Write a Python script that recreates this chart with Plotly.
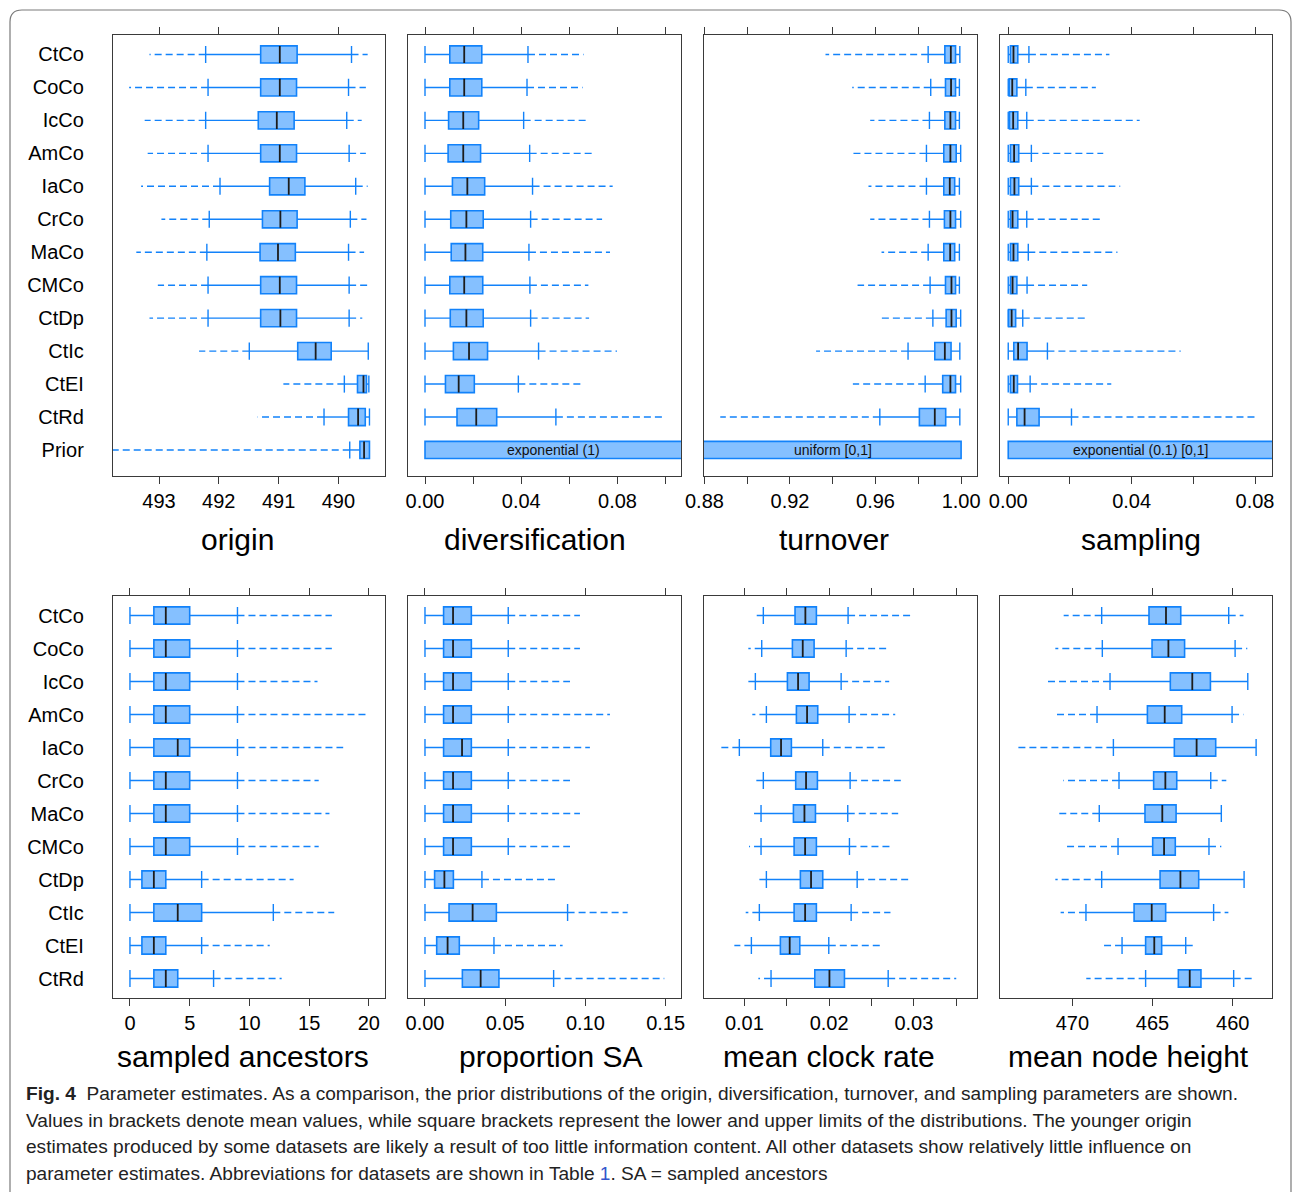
import plotly.graph_objects as go

# ---------------- data ----------------
# each row: [lower dashed end, lower whisker, Q1, median, Q3, upper whisker, upper dashed end]
top_labels = ["CtCo", "CoCo", "IcCo", "AmCo", "IaCo", "CrCo", "MaCo", "CMCo",
              "CtDp", "CtIc", "CtEI", "CtRd", "Prior"]
bottom_labels = top_labels[:12]

origin_stats = [
    [489.51, 489.78, 490.69, 490.98, 491.30, 492.22, 493.16],
    [489.54, 489.83, 490.70, 490.98, 491.30, 492.18, 493.50],
    [489.61, 489.86, 490.74, 491.03, 491.34, 492.22, 493.24],
    [489.54, 489.82, 490.70, 490.98, 491.30, 492.18, 493.19],
    [489.51, 489.71, 490.56, 490.83, 491.15, 491.98, 493.30],
    [489.53, 489.80, 490.69, 490.97, 491.27, 492.16, 492.96],
    [489.57, 489.83, 490.72, 491.01, 491.31, 492.20, 493.38],
    [489.50, 489.82, 490.70, 490.98, 491.30, 492.18, 493.02],
    [489.60, 489.82, 490.70, 490.97, 491.30, 492.18, 493.16],
    [489.50, 489.50, 490.12, 490.38, 490.68, 491.49, 492.33],
    [489.49, 489.49, 489.53, 489.58, 489.68, 489.90, 490.92],
    [489.48, 489.48, 489.55, 489.67, 489.83, 490.24, 491.35],
    [489.48, 489.48, 489.48, 489.57, 489.64, 489.81, 500.00],  # prior
]

diversification_stats = [
    [0.0, 0.0, 0.0103, 0.0163, 0.0236, 0.0428, 0.0659],
    [0.0, 0.0, 0.0103, 0.0163, 0.0236, 0.0424, 0.0655],
    [0.0, 0.0, 0.0098, 0.0159, 0.0223, 0.0410, 0.0682],
    [0.0, 0.0, 0.0096, 0.0159, 0.0231, 0.0435, 0.0702],
    [0.0, 0.0, 0.0114, 0.0176, 0.0248, 0.0447, 0.0780],
    [0.0, 0.0, 0.0107, 0.0172, 0.0242, 0.0439, 0.0736],
    [0.0, 0.0, 0.0109, 0.0168, 0.0240, 0.0432, 0.0769],
    [0.0, 0.0, 0.0103, 0.0163, 0.0240, 0.0436, 0.0679],
    [0.0, 0.0, 0.0105, 0.0172, 0.0242, 0.0439, 0.0682],
    [0.0, 0.0, 0.0118, 0.0183, 0.0260, 0.0472, 0.0798],
    [0.0, 0.0, 0.0085, 0.0140, 0.0205, 0.0388, 0.0647],
    [0.0, 0.0, 0.0133, 0.0213, 0.0298, 0.0544, 0.0995],
]
diversification_prior = [0.0, 1.0]
diversification_prior_text = "exponential (1)"

turnover_stats = [
    [0.9366, 0.9846, 0.9924, 0.9952, 0.9974, 0.9994, 0.9994],
    [0.9491, 0.9858, 0.9927, 0.9953, 0.9974, 0.9992, 0.9992],
    [0.9575, 0.9852, 0.9924, 0.9950, 0.9974, 0.9992, 0.9992],
    [0.9483, 0.9838, 0.9919, 0.9950, 0.9977, 0.9998, 0.9998],
    [0.9567, 0.9838, 0.9919, 0.9947, 0.9970, 0.9992, 0.9992],
    [0.9575, 0.9852, 0.9922, 0.9950, 0.9974, 0.9998, 0.9998],
    [0.9628, 0.9846, 0.9919, 0.9949, 0.9970, 0.9992, 0.9992],
    [0.9516, 0.9855, 0.9927, 0.9955, 0.9974, 0.9992, 0.9992],
    [0.9614, 0.9868, 0.9930, 0.9955, 0.9977, 0.9998, 0.9998],
    [0.9322, 0.9752, 0.9877, 0.9924, 0.9953, 0.9994, 0.9994],
    [0.9494, 0.9832, 0.9914, 0.9950, 0.9974, 0.9998, 0.9998],
    [0.8874, 0.9620, 0.9805, 0.9877, 0.9928, 0.9994, 0.9994],
]
turnover_prior = [0.0, 1.0]
turnover_prior_text = "uniform [0,1]"

sampling_stats = [
    [0.0, 0.0, 0.0007, 0.0017, 0.0031, 0.0067, 0.0328],
    [0.0, 0.0, 0.0003, 0.0013, 0.0028, 0.0057, 0.0284],
    [0.0, 0.0, 0.0004, 0.0016, 0.0031, 0.0060, 0.0426],
    [0.0, 0.0, 0.0007, 0.0019, 0.0034, 0.0075, 0.0308],
    [0.0, 0.0, 0.0007, 0.0020, 0.0034, 0.0075, 0.0363],
    [0.0, 0.0, 0.0007, 0.0014, 0.0031, 0.0060, 0.0298],
    [0.0, 0.0, 0.0007, 0.0017, 0.0031, 0.0065, 0.0354],
    [0.0, 0.0, 0.0007, 0.0014, 0.0028, 0.0061, 0.0256],
    [0.0, 0.0, 0.0001, 0.0011, 0.0024, 0.0047, 0.0253],
    [0.0, 0.0, 0.0018, 0.0032, 0.0061, 0.0127, 0.0559],
    [0.0, 0.0, 0.0007, 0.0018, 0.0030, 0.0071, 0.0334],
    [0.0, 0.0, 0.0028, 0.0053, 0.0100, 0.0205, 0.0803],
]
sampling_prior = [0.0, 1.0]
sampling_prior_text = "exponential (0.1) [0,1]"

sampled_ancestors_stats = [
    [0, 0, 2, 3, 5, 9, 16.9],
    [0, 0, 2, 3, 5, 9, 16.9],
    [0, 0, 2, 3, 5, 9, 15.7],
    [0, 0, 2, 3, 5, 9, 20.0],
    [0, 0, 2, 4, 5, 9, 17.85],
    [0, 0, 2, 3, 5, 9, 15.8],
    [0, 0, 2, 3, 5, 9, 16.7],
    [0, 0, 2, 3, 5, 9, 15.8],
    [0, 0, 1, 2, 3, 6, 13.7],
    [0, 0, 2, 4, 6, 12, 17.1],
    [0, 0, 1, 2, 3, 6, 11.7],
    [0, 0, 2, 3, 4, 7, 12.7],
]

proportion_sa_stats = [
    [0.0, 0.0, 0.0116, 0.0175, 0.0289, 0.0519, 0.0966],
    [0.0, 0.0, 0.0116, 0.0175, 0.0289, 0.0519, 0.0966],
    [0.0, 0.0, 0.0116, 0.0175, 0.0289, 0.0519, 0.0904],
    [0.0, 0.0, 0.0116, 0.0175, 0.0289, 0.0519, 0.1153],
    [0.0, 0.0, 0.0116, 0.0231, 0.0289, 0.0519, 0.1028],
    [0.0, 0.0, 0.0116, 0.0175, 0.0289, 0.0519, 0.0904],
    [0.0, 0.0, 0.0116, 0.0175, 0.0289, 0.0519, 0.0966],
    [0.0, 0.0, 0.0116, 0.0175, 0.0289, 0.0519, 0.0904],
    [0.0, 0.0, 0.0060, 0.0121, 0.0177, 0.0355, 0.0831],
    [0.0, 0.0, 0.0150, 0.0297, 0.0445, 0.0889, 0.1263],
    [0.0, 0.0, 0.0073, 0.0141, 0.0214, 0.0430, 0.0858],
    [0.0, 0.0, 0.0233, 0.0347, 0.0461, 0.0802, 0.1492],
]

clock_rate_stats = [
    [0.01146, 0.01224, 0.01598, 0.01720, 0.01850, 0.02224, 0.02984],
    [0.01047, 0.01205, 0.01567, 0.01689, 0.01823, 0.02201, 0.02709],
    [0.01020, 0.01130, 0.01508, 0.01634, 0.01764, 0.02142, 0.02709],
    [0.01094, 0.01260, 0.01614, 0.01740, 0.01866, 0.02236, 0.02780],
    [0.00720, 0.00941, 0.01311, 0.01433, 0.01555, 0.01925, 0.02661],
    [0.01106, 0.01224, 0.01606, 0.01728, 0.01862, 0.02248, 0.02846],
    [0.01094, 0.01197, 0.01579, 0.01709, 0.01839, 0.02220, 0.02815],
    [0.01055, 0.01197, 0.01587, 0.01717, 0.01850, 0.02240, 0.02728],
    [0.01173, 0.01260, 0.01661, 0.01787, 0.01925, 0.02331, 0.02937],
    [0.01016, 0.01177, 0.01587, 0.01717, 0.01850, 0.02260, 0.02724],
    [0.00882, 0.01083, 0.01425, 0.01535, 0.01654, 0.01996, 0.02606],
    [0.01165, 0.01315, 0.01831, 0.02004, 0.02181, 0.02697, 0.03500],
]

node_height_stats = [
    [459.33, 460.25, 463.24, 464.16, 465.22, 468.17, 470.54],
    [459.09, 459.85, 463.00, 464.01, 465.03, 468.13, 471.06],
    [459.06, 459.06, 461.39, 462.52, 463.89, 467.65, 471.52],
    [459.33, 460.04, 463.18, 464.24, 465.32, 468.46, 471.06],
    [458.54, 458.54, 461.06, 462.25, 463.64, 467.44, 473.53],
    [460.40, 461.37, 463.49, 464.20, 464.93, 467.09, 470.56],
    [460.71, 460.71, 463.53, 464.39, 465.47, 468.32, 470.98],
    [460.71, 461.48, 463.58, 464.28, 464.99, 467.15, 470.40],
    [459.29, 459.29, 462.12, 463.26, 464.53, 468.17, 471.06],
    [460.27, 461.19, 464.18, 465.05, 466.15, 469.15, 470.73],
    [462.25, 462.93, 464.43, 464.89, 465.43, 466.90, 468.15],
    [458.71, 459.94, 461.98, 462.68, 463.39, 465.43, 469.13],
]

panel_titles = ["origin", "diversification", "turnover", "sampling",
                "sampled ancestors", "proportion SA", "mean clock rate", "mean node height"]

caption_lines = [
    "<b>Fig. 4</b>  Parameter estimates. As a comparison, the prior distributions of the origin, diversification, turnover, and sampling parameters are shown.",
    "Values in brackets denote mean values, while square brackets represent the lower and upper limits of the distributions. The younger origin",
    "estimates produced by some datasets are likely a result of too little information content. All other datasets show relatively little influence on",
    "parameter estimates. Abbreviations for datasets are shown in Table <span style='color:#3355cc'>1</span>. SA = sampled ancestors",
]

# ---------------- style / layout ----------------
W, H = 1292, 1192
BLUE = "#1282FA"
FILL = "#85C0FF"
MED = "#1c1c1c"
FRAME = "#3a3a3a"
BOXH = 0.52
FONT = "Liberation Sans"


def px(x):
    return x / W


def py(y):
    return 1 - y / H


col_px = [(113, 385), (408.3, 681), (704, 976.5), (1000, 1272)]
row_px = [(34.7, 476), (595.7, 998.3)]
row_pad_bottom = [0.79, 0.6]

fig = go.Figure()

panels = [
    dict(stats=origin_stats, prior=None, ptext=None, row=0, col=0,
         rng=[493.77, 489.22], tickvals=[493, 492, 491, 490], fmt="d", minor=None),
    dict(stats=diversification_stats, prior=diversification_prior, ptext=diversification_prior_text,
         row=0, col=1, rng=[-0.00694, 0.1064], tickvals=[0, 0.04, 0.08], fmt=".2f",
         minor=[0.02, 0.06, 0.10]),
    dict(stats=turnover_stats, prior=turnover_prior, ptext=turnover_prior_text,
         row=0, col=2, rng=[0.8798, 1.0072], tickvals=[0.88, 0.92, 0.96, 1.00], fmt=".2f",
         minor=[0.90, 0.94, 0.98]),
    dict(stats=sampling_stats, prior=sampling_prior, ptext=sampling_prior_text,
         row=0, col=3, rng=[-0.00267, 0.0855], tickvals=[0, 0.04, 0.08], fmt=".2f",
         minor=[0.02, 0.06]),
    dict(stats=sampled_ancestors_stats, prior=None, ptext=None, row=1, col=0,
         rng=[-1.42, 21.35], tickvals=[0, 5, 10, 15, 20], fmt="d", minor=None),
    dict(stats=proportion_sa_stats, prior=None, ptext=None, row=1, col=1,
         rng=[-0.0104, 0.1596], tickvals=[0, 0.05, 0.10, 0.15], fmt=".2f", minor=None),
    dict(stats=clock_rate_stats, prior=None, ptext=None, row=1, col=2,
         rng=[0.00524, 0.03739], tickvals=[0.01, 0.02, 0.03], fmt=".2f",
         minor=[0.015, 0.025, 0.035]),
    dict(stats=node_height_stats, prior=None, ptext=None, row=1, col=3,
         rng=[474.51, 457.55], tickvals=[470, 465, 460], fmt="d", minor=None),
]

annotations = []
layout_axes = {}

for k, p in enumerate(panels):
    idx = k + 1
    xa = "x" if idx == 1 else f"x{idx}"
    ya = "y" if idx == 1 else f"y{idx}"
    stats = p["stats"]
    labels = top_labels if p["row"] == 0 else bottom_labels
    n_rows = len(labels)
    ys = list(range(len(stats)))

    # whiskers (solid), dashed extensions, caps
    sx, sy, dx, dy, cx, cy = [], [], [], [], [], []
    for i, s in enumerate(stats):
        lo_o, lo_w, q1, med, q3, hi_w, hi_o = s
        for a, b in ((q1, lo_w), (q3, hi_w)):
            if a != b:
                sx += [a, b, None]
                sy += [i, i, None]
                cx += [b, b, None]
                cy += [i - BOXH / 2, i + BOXH / 2, None]
        for a, b in ((lo_w, lo_o), (hi_w, hi_o)):
            if a != b:
                dx += [a, b, None]
                dy += [i, i, None]

    fig.add_trace(go.Scatter(x=dx, y=dy, mode="lines", xaxis=xa, yaxis=ya,
                             line=dict(color=BLUE, width=1.4, dash="7px,4px"),
                             hoverinfo="skip", showlegend=False))
    fig.add_trace(go.Scatter(x=sx, y=sy, mode="lines", xaxis=xa, yaxis=ya,
                             line=dict(color=BLUE, width=1.4),
                             hoverinfo="skip", showlegend=False))
    fig.add_trace(go.Scatter(x=cx, y=cy, mode="lines", xaxis=xa, yaxis=ya,
                             line=dict(color=BLUE, width=1.4),
                             hoverinfo="skip", showlegend=False))

    # boxes
    bq1 = [s[2] for s in stats]
    bq3 = [s[4] for s in stats]
    by = list(ys)
    if p["prior"] is not None:
        bq1.append(p["prior"][0])
        bq3.append(p["prior"][1])
        by.append(len(stats))
    fig.add_trace(go.Bar(x=[b - a for a, b in zip(bq1, bq3)], base=bq1, y=by,
                         orientation="h", width=BOXH, xaxis=xa, yaxis=ya,
                         marker=dict(color=FILL, line=dict(color=BLUE, width=1.6)),
                         hoverinfo="skip", showlegend=False))

    # medians
    mx, my = [], []
    for i, s in enumerate(stats):
        mx += [s[3], s[3], None]
        my += [i - BOXH / 2, i + BOXH / 2, None]
    fig.add_trace(go.Scatter(x=mx, y=my, mode="lines", xaxis=xa, yaxis=ya,
                             line=dict(color=MED, width=1.8),
                             hoverinfo="skip", showlegend=False))

    if p["ptext"]:
        lo = max(p["prior"][0], min(p["rng"]))
        hi = min(p["prior"][1], max(p["rng"]))
        annotations.append(dict(x=(lo + hi) / 2, y=len(stats), xref=xa, yref=ya,
                                text=p["ptext"], showarrow=False,
                                font=dict(family=FONT, size=14, color="#111")))

    x0, x1 = col_px[p["col"]]
    yt, yb = row_px[p["row"]]
    xkey = "xaxis" if idx == 1 else f"xaxis{idx}"
    ykey = "yaxis" if idx == 1 else f"yaxis{idx}"
    ticktext = [format(v, p["fmt"]) if p["fmt"] != "d" else str(int(v)) for v in p["tickvals"]]
    xax = dict(domain=[px(x0), px(x1)], anchor=ya, range=p["rng"], autorange=False,
               automargin=False,
               showline=True, linecolor=FRAME, linewidth=1.3, mirror="ticks",
               ticks="outside", ticklen=7, tickwidth=1.1, tickcolor=FRAME,
               tickvals=p["tickvals"], ticktext=ticktext, ticklabelstandoff=0,
               tickfont=dict(family=FONT, size=20, color="#000"),
               showgrid=False, zeroline=False, fixedrange=True)
    if p["minor"]:
        xax["minor"] = dict(tickvals=p["minor"], ticks="outside", ticklen=7,
                            tickwidth=1.1, tickcolor=FRAME, showgrid=False)
    layout_axes[xkey] = xax
    layout_axes[ykey] = dict(domain=[py(yb), py(yt)], anchor=xa,
                             range=[n_rows - 1 + row_pad_bottom[p["row"]], -0.6], autorange=False,
                             automargin=False,
                             showline=True, linecolor=FRAME, linewidth=1.3, mirror=True,
                             ticks="", tickvals=list(range(n_rows)), ticktext=labels,
                             showticklabels=(p["col"] == 0), ticklabelstandoff=24,
                             tickfont=dict(family=FONT, size=20, color="#000"),
                             showgrid=False, zeroline=False, fixedrange=True)

# panel titles
title_pos = [(237.5, 539), (535, 539), (834, 539), (1141, 539),
             (243, 1056), (550, 1056), (829, 1056), (1128.5, 1056)]
for t, (tx, ty) in zip(panel_titles, title_pos):
    annotations.append(dict(x=px(tx), y=py(ty), xref="paper", yref="paper", text=t,
                            showarrow=False, xanchor="center", yanchor="middle",
                            font=dict(family=FONT, size=30, color="#000")))

# caption
cap_y = [1093, 1120, 1146, 1173]
for line, ly in zip(caption_lines, cap_y):
    annotations.append(dict(x=px(24), y=py(ly), xref="paper", yref="paper", text=line,
                            showarrow=False, xanchor="left", yanchor="middle", align="left",
                            font=dict(family=FONT, size=19.1, color="#222")))

border = (f"M {px(10)},{py(1200)} L {px(10)},{py(22)} Q {px(10)},{py(10)} {px(22)},{py(10)} "
          f"L {px(1279)},{py(10)} Q {px(1291)},{py(10)} {px(1291)},{py(22)} L {px(1291)},{py(1200)}")

fig.update_layout(
    width=W, height=H, autosize=False,
    margin=dict(l=0, r=0, t=0, b=0, pad=0, autoexpand=False),
    paper_bgcolor="white", plot_bgcolor="white",
    barmode="overlay", showlegend=False,
    annotations=annotations,
    shapes=[dict(type="path", path=border, xref="paper", yref="paper",
                 line=dict(color="#7a7a7a", width=1.2))],
    **layout_axes,
)

fig.write_html("out.html", config={"displayModeBar": False},
               post_script="document.body.style.margin='0px';document.body.style.overflow='hidden';")
